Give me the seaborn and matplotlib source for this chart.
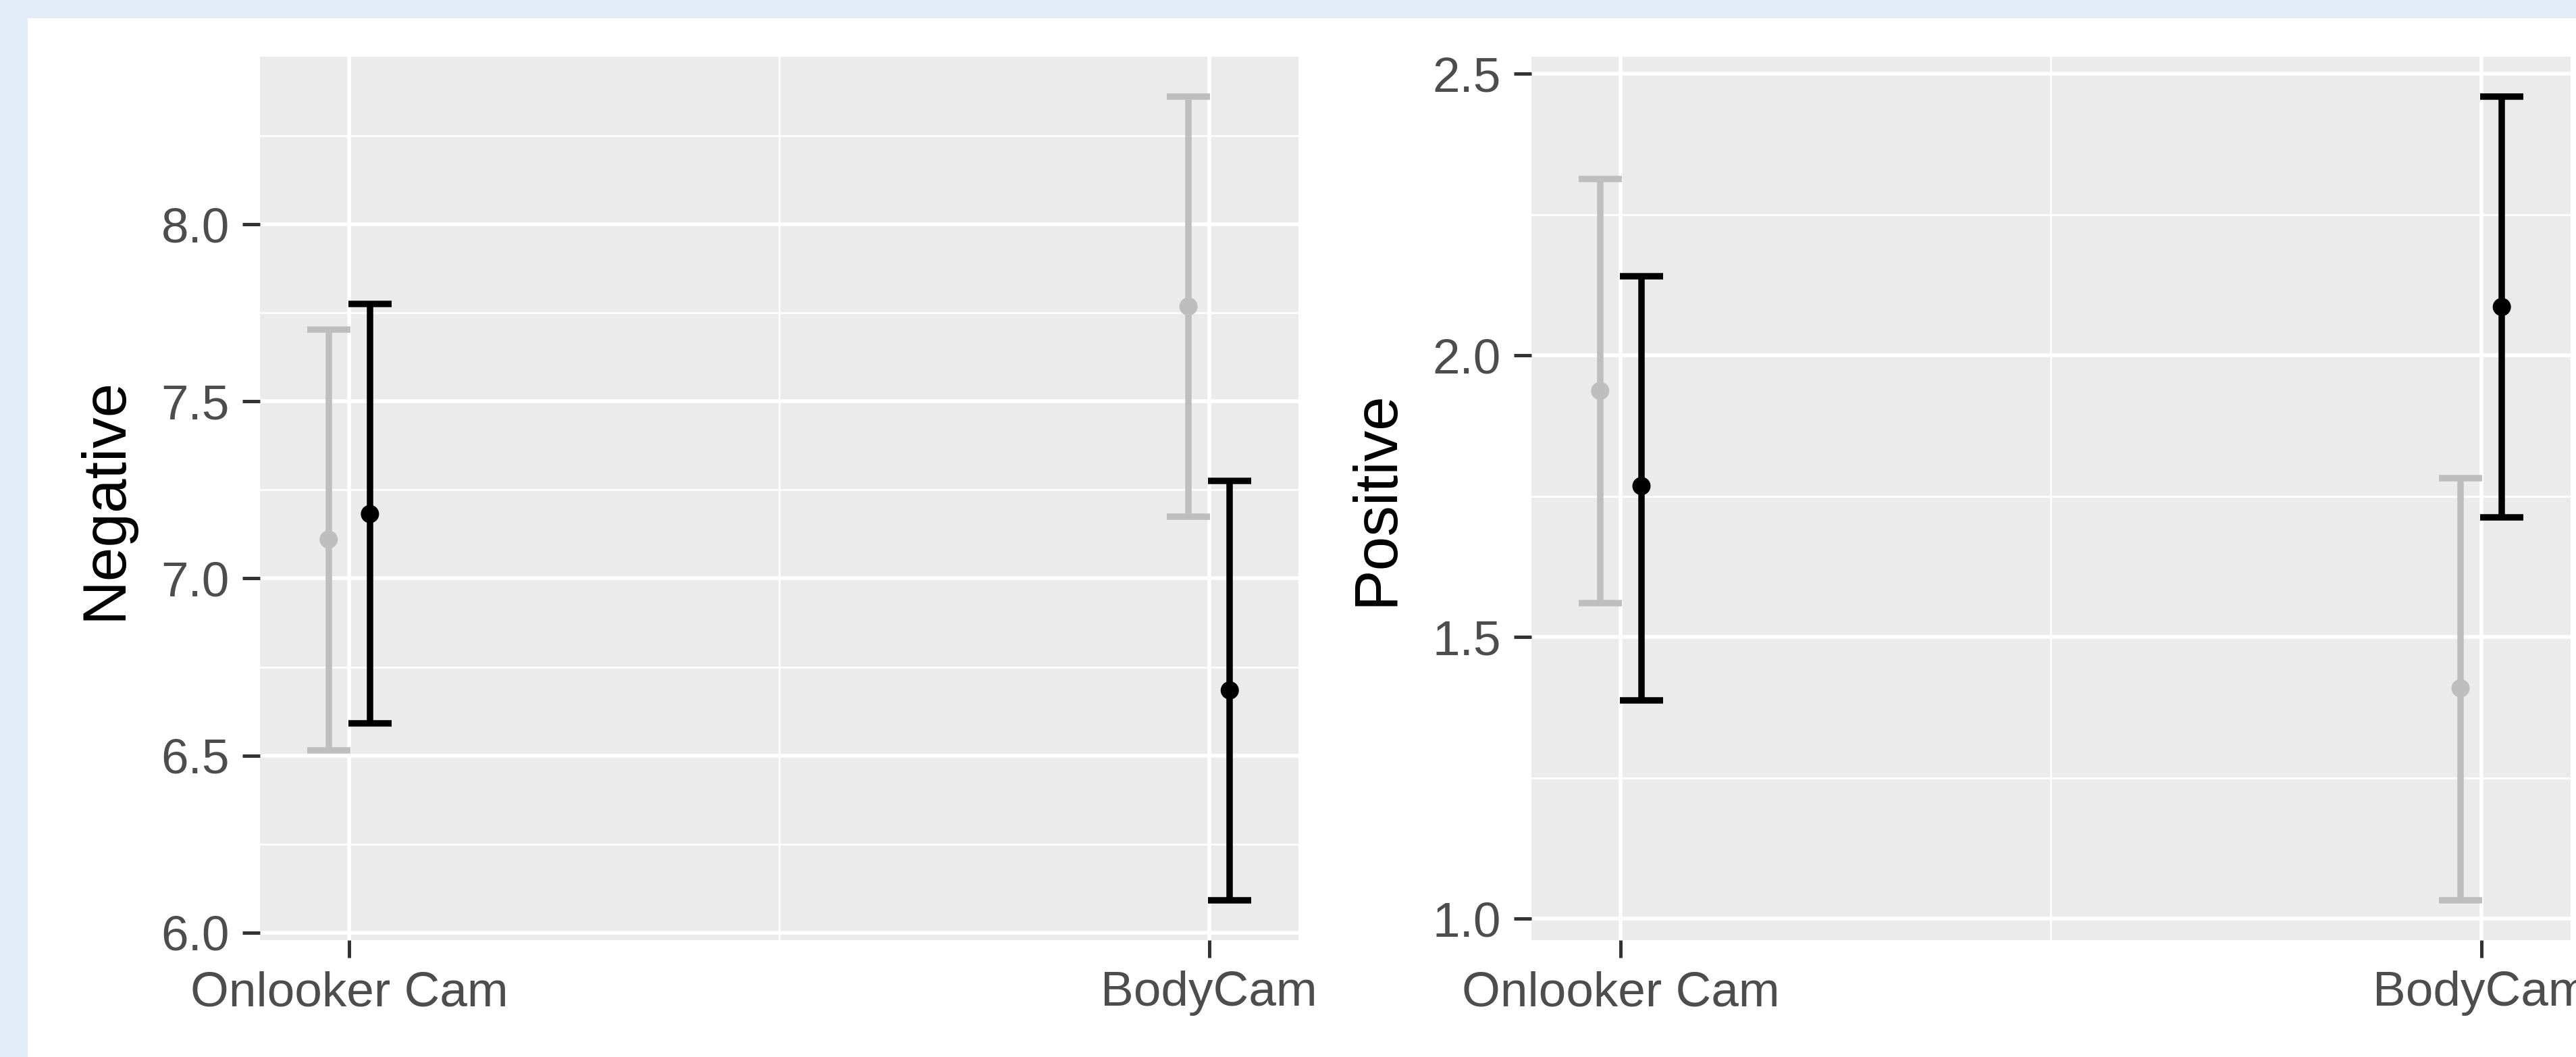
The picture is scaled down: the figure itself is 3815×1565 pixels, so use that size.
import numpy as np
import pandas as pd
import matplotlib
matplotlib.use("Agg")
import matplotlib.pyplot as plt
from matplotlib.patches import Rectangle
from matplotlib.ticker import FixedLocator
import seaborn as sns

# ---------------- data ----------------
categories = ["Onlooker Cam", "BodyCam"]
series = ["Group A", "Group B"]          # gray, black

neg_mean_a = [7.110, 7.768]
neg_low_a = [6.515, 7.175]
neg_high_a = [7.703, 8.360]
neg_mean_b = [7.182, 6.684]
neg_low_b = [6.590, 6.092]
neg_high_b = [7.775, 7.276]

pos_mean_a = [1.937, 1.409]
pos_low_a = [1.560, 1.033]
pos_high_a = [2.313, 1.782]
pos_mean_b = [1.768, 2.086]
pos_low_b = [1.388, 1.712]
pos_high_b = [2.141, 2.459]

neg_yticks = [6.0, 6.5, 7.0, 7.5, 8.0]
pos_yticks = [1.0, 1.5, 2.0, 2.5]

# ---------------- style ----------------
W, H, DPI = 3816, 1565, 200
PX = 72.0 / DPI  # points per pixel

sns.set_style("white")
plt.rcParams["font.family"] = ["Liberation Sans", "DejaVu Sans"]

colors = {"Group A": "#BEBEBE", "Group B": "#000000"}
dodge = {"Group A": -0.024, "Group B": 0.024}
cap_w = 0.05


def make_df(ma, la, ha, mb, lb, hb):
    rows = []
    for s, m, lo, hi in (("Group A", ma, la, ha), ("Group B", mb, lb, hb)):
        for i, c in enumerate(categories):
            rows.append(dict(category=c, series=s, xpos=i + 1 + dodge[s],
                             mean=m[i], low=lo[i], high=hi[i]))
    return pd.DataFrame(rows)


df_neg = make_df(neg_mean_a, neg_low_a, neg_high_a, neg_mean_b, neg_low_b, neg_high_b)
df_pos = make_df(pos_mean_a, pos_low_a, pos_high_a, pos_mean_b, pos_low_b, pos_high_b)

fig = plt.figure(figsize=(W / DPI, H / DPI), dpi=DPI)
fig.patch.set_facecolor("white")
# light blue frame on the top and left edges
fig.patches.append(Rectangle((0, 1 - 27 / H), 1, 27 / H, transform=fig.transFigure,
                             facecolor="#E3EDF9", edgecolor="none", zorder=-10))
fig.patches.append(Rectangle((0, 0), 41 / W, 1, transform=fig.transFigure,
                             facecolor="#E3EDF9", edgecolor="none", zorder=-10))

ax_y0 = 1 - 1392 / H
ax_h = (1392 - 84) / H
ax1 = fig.add_axes([385 / W, ax_y0, 1538 / W, ax_h])
ax2 = fig.add_axes([2268 / W, ax_y0, 1539 / W, ax_h])

LW = 9.5 * PX


def draw(ax, df, ylabel, yticks):
    ax.set_facecolor("#EBEBEB")
    for s in series:
        d = df[df.series == s]
        ax.vlines(d.xpos, d.low, d.high, color=colors[s], lw=LW, zorder=3,
                  capstyle="butt")
        ax.hlines(d.low, d.xpos - cap_w / 2, d.xpos + cap_w / 2, color=colors[s],
                  lw=LW, zorder=3, capstyle="butt")
        ax.hlines(d.high, d.xpos - cap_w / 2, d.xpos + cap_w / 2, color=colors[s],
                  lw=LW, zorder=3, capstyle="butt")
    sns.scatterplot(data=df, x="xpos", y="mean", hue="series", palette=colors,
                    s=(27 * PX) ** 2, edgecolor="none", linewidth=0, legend=False,
                    ax=ax, zorder=4)
    # ggplot-like continuous expansion (5%)
    xmin = (df.xpos - cap_w / 2).min()
    xmax = (df.xpos + cap_w / 2).max()
    xr = xmax - xmin
    ax.set_xlim(xmin - 0.05 * xr, xmax + 0.05 * xr)
    ymin, ymax = df.low.min(), df.high.max()
    yr = ymax - ymin
    ax.set_ylim(ymin - 0.05 * yr, ymax + 0.05 * yr)

    ax.xaxis.set_major_locator(FixedLocator([1, 2]))
    ax.set_xticklabels(categories)
    ax.xaxis.set_minor_locator(FixedLocator([1.5]))
    ax.yaxis.set_major_locator(FixedLocator(yticks))
    ax.set_yticklabels([f"{v:.1f}" for v in yticks])
    ax.yaxis.set_minor_locator(FixedLocator([v + 0.25 for v in yticks]))
    ax.grid(which="major", color="white", lw=5.5 * PX, zorder=1)
    ax.grid(which="minor", color="white", lw=2.8 * PX, zorder=1)
    ax.set_axisbelow(True)
    for sp in ax.spines.values():
        sp.set_visible(False)
    ax.tick_params(which="major", length=26 * PX, width=5 * PX, color="#333333",
                   labelsize=73 * PX, labelcolor="#4D4D4D", pad=19 * PX,
                   bottom=True, left=True)
    ax.tick_params(which="minor", length=0)
    ax.set_xlabel("")
    ax.set_ylabel(ylabel, fontsize=91 * PX, color="black", labelpad=40 * PX)


draw(ax1, df_neg, "Negative", neg_yticks)
draw(ax2, df_pos, "Positive", pos_yticks)

fig.savefig("out.png", dpi=DPI, facecolor=fig.get_facecolor())
